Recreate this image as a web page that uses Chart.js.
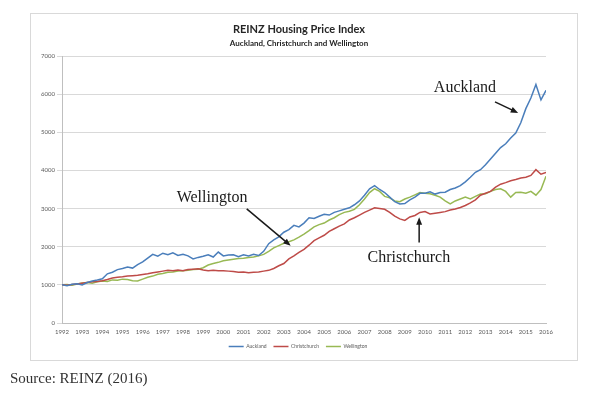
<!DOCTYPE html>
<html>
<head>
<meta charset="utf-8">
<script src="https://cdn.jsdelivr.net/npm/chart.js@4"></script>
<style>
  html, body { margin: 0; padding: 0; background: #fff; }
  #wrap { position: relative; width: 600px; height: 400px; }
  #source { position: absolute; left: 10px; top: 370px; font-family: "Liberation Serif", "DejaVu Serif", serif; font-size: 15px; color: #333; }
</style>
</head>
<body>
<div id="wrap">
  <canvas id="c" width="600" height="400"></canvas>
  <div id="source">Source: REINZ (2016)</div>
</div>
<script>
const startYear = 1992;
const endYear = 2016;
const pointsPerYear = 4;

const seriesNames = ['Auckland', 'Christchurch', 'Wellington'];

const aucklandValues = [
  1000, 975, 1015, 1030,
  1000, 1060, 1100, 1125,
  1160, 1290, 1330, 1400,
  1430, 1470, 1440, 1530,
  1600, 1700, 1800, 1750,
  1830, 1790, 1840, 1770,
  1800, 1760, 1680, 1720,
  1750, 1790, 1730, 1860,
  1760, 1780, 1790, 1740,
  1790, 1760, 1800, 1770,
  1880, 2080, 2180, 2260,
  2380, 2450, 2560, 2520,
  2620, 2760, 2740, 2800,
  2850, 2830, 2900, 2940,
  2980, 3020, 3100, 3200,
  3350, 3520, 3600, 3500,
  3420, 3300, 3180, 3120,
  3130, 3230, 3300, 3400,
  3400, 3440, 3380, 3420,
  3430, 3500, 3540, 3600,
  3700, 3820, 3950, 4020,
  4150, 4300, 4450, 4600,
  4700, 4850, 4980, 5250,
  5620, 5900, 6250, 5850,
  6100
];

const christchurchValues = [
  1000, 990, 1010, 1020,
  1040, 1060, 1080, 1090,
  1110, 1140, 1180, 1200,
  1210, 1230, 1240, 1250,
  1270, 1290, 1320, 1340,
  1360, 1380, 1370, 1390,
  1370, 1400, 1410, 1420,
  1390, 1370, 1380, 1370,
  1370, 1360, 1350, 1330,
  1340, 1320, 1330, 1340,
  1360, 1380, 1430, 1500,
  1560, 1680, 1760, 1850,
  1930, 2040, 2160, 2230,
  2300, 2400, 2470, 2540,
  2600, 2700, 2760, 2830,
  2900, 2960, 3020, 3000,
  2980, 2900, 2800, 2730,
  2690, 2780, 2820, 2900,
  2920, 2860, 2880, 2900,
  2920, 2960, 2990, 3030,
  3080, 3150, 3230, 3350,
  3400, 3450, 3560, 3640,
  3680, 3730, 3760, 3800,
  3820, 3870, 4020, 3900,
  3950
];

const wellingtonValues = [
  1000, 1010, 990, 1020,
  1050, 1060, 1040, 1080,
  1100, 1090, 1130, 1120,
  1150, 1140, 1110, 1100,
  1150, 1200, 1230, 1280,
  1300, 1330, 1340, 1360,
  1370, 1380, 1400, 1410,
  1450, 1520, 1560, 1590,
  1630, 1650, 1670, 1690,
  1700, 1720, 1730, 1760,
  1800, 1880, 1970, 2030,
  2090, 2130, 2180, 2250,
  2330, 2420, 2520, 2580,
  2620, 2700, 2760, 2840,
  2900, 2930, 2980, 3100,
  3250, 3420, 3520, 3450,
  3320, 3280, 3200, 3180,
  3250, 3300, 3360, 3420,
  3400, 3390, 3350, 3300,
  3200, 3120, 3200, 3250,
  3300, 3250, 3320, 3380,
  3390, 3450, 3500, 3520,
  3450, 3300, 3420, 3430,
  3400, 3450, 3350, 3500,
  3850
];

const yTickMax = 7000;
const yTickStep = 1000;

function toPoints(values) {
  return values.map((v, i) => ({ x: startYear + i / pointsPerYear, y: v }));
}

const colors = ['#4a7ebb', '#be4b48', '#98b954'];
const allValues = [aucklandValues, christchurchValues, wellingtonValues];

const framePlugin = {
  id: 'frame',
  afterLayout(chart) {
    const l = chart.legend;
    if (l) { l.left += 10; l.right += 10; }
  },
  beforeDraw(chart) {
    const ctx = chart.ctx;
    ctx.save();
    ctx.fillStyle = '#fff';
    ctx.fillRect(0, 0, chart.width, chart.height);
    ctx.strokeStyle = '#d9d9d9';
    ctx.lineWidth = 1;
    ctx.strokeRect(30.5, 13.5, 547, 347);
    ctx.fillStyle = '#262626';
    ctx.textAlign = 'center';
    ctx.textBaseline = 'middle';
    ctx.font = 'bold 11px Lato, "Open Sans", sans-serif';
    ctx.fillText('REINZ Housing Price Index', 299, 29);
    ctx.font = 'bold 8px Lato, "Open Sans", sans-serif';
    ctx.fillText('Auckland, Christchurch and Wellington', 299, 43);
    ctx.restore();
  }
};

const annotationPlugin = {
  id: 'notes',
  afterDatasetsDraw(chart, args, opts) {
    const ctx = chart.ctx;
    const xs = chart.scales.x, ys = chart.scales.y;
    ctx.save();
    ctx.fillStyle = '#1a1a1a';
    ctx.strokeStyle = '#1a1a1a';
    ctx.textAlign = 'center';
    ctx.textBaseline = 'middle';
    ctx.font = '16px "Liberation Serif", "DejaVu Serif", serif';
    opts.items.forEach(a => {
      ctx.fillText(a.text, xs.getPixelForValue(a.tx), ys.getPixelForValue(a.ty));
      const x1 = xs.getPixelForValue(a.ax1), y1 = ys.getPixelForValue(a.ay1);
      const x2 = xs.getPixelForValue(a.ax2), y2 = ys.getPixelForValue(a.ay2);
      const ang = Math.atan2(y2 - y1, x2 - x1);
      const hl = 8;
      ctx.lineWidth = 1.5;
      ctx.beginPath();
      ctx.moveTo(x1, y1);
      ctx.lineTo(x2 - Math.cos(ang) * hl * 0.8, y2 - Math.sin(ang) * hl * 0.8);
      ctx.stroke();
      ctx.beginPath();
      ctx.moveTo(x2, y2);
      ctx.lineTo(x2 - hl * Math.cos(ang - 0.38), y2 - hl * Math.sin(ang - 0.38));
      ctx.lineTo(x2 - hl * Math.cos(ang + 0.38), y2 - hl * Math.sin(ang + 0.38));
      ctx.closePath();
      ctx.fill();
    });
    ctx.restore();
  }
};

new Chart(document.getElementById('c'), {
  type: 'line',
  data: {
    datasets: seriesNames.map((name, i) => ({
      label: name,
      data: toPoints(allValues[i]),
      borderColor: colors[i],
      backgroundColor: colors[i],
      borderWidth: 1.5,
      pointRadius: 0,
      tension: 0,
      fill: false
    }))
  },
  options: {
    responsive: false,
    animation: false,
    devicePixelRatio: 1,
    layout: { padding: { left: 30, right: 54, top: 56, bottom: 41 } },
    scales: {
      x: {
        type: 'linear',
        min: startYear,
        max: endYear,
        afterFit(scale) { scale.height = 14; },
        grid: { display: false, drawTicks: false, tickLength: 0 },
        border: { display: true, color: '#bfbfbf' },
        ticks: {
          stepSize: 1,
          autoSkip: false,
          maxRotation: 0,
          padding: 5,
          color: '#595959',
          font: { size: 6, family: 'Lato, sans-serif' },
          callback: v => String(v)
        }
      },
      y: {
        min: 0,
        max: yTickMax,
        afterFit(scale) { scale.width = 32; },
        grid: { color: '#d9d9d9', lineWidth: 1, tickLength: 5 },
        border: { display: true, color: '#bfbfbf' },
        ticks: {
          stepSize: yTickStep,
          padding: 2,
          color: '#595959',
          font: { size: 6, family: 'Lato, sans-serif' },
          callback: v => String(v)
        }
      }
    },
    plugins: {
      legend: {
        position: 'bottom',
        labels: {
          usePointStyle: true,
          pointStyle: 'line',
          pointStyleWidth: 15,
          boxWidth: 15,
          boxHeight: 2,
          padding: 7,
          color: '#595959',
          font: { size: 5, family: 'Lato, sans-serif' }
        }
      },
      tooltip: { enabled: false },
      notes: {
        items: [
          { text: 'Auckland', tx: 2011.98, ty: 6158, ax1: 2013.47, ay1: 5797, ax2: 2014.62, ay2: 5508 },
          { text: 'Wellington', tx: 1999.44, ty: 3289, ax1: 2001.16, ay1: 2992, ax2: 2003.34, ay2: 2026 },
          { text: 'Christchurch', tx: 2009.2, ty: 1711, ax1: 2009.71, ay1: 2113, ax2: 2009.71, ay2: 2771 }
        ]
      }
    }
  },
  plugins: [framePlugin, annotationPlugin]
});
</script>
</body>
</html>
